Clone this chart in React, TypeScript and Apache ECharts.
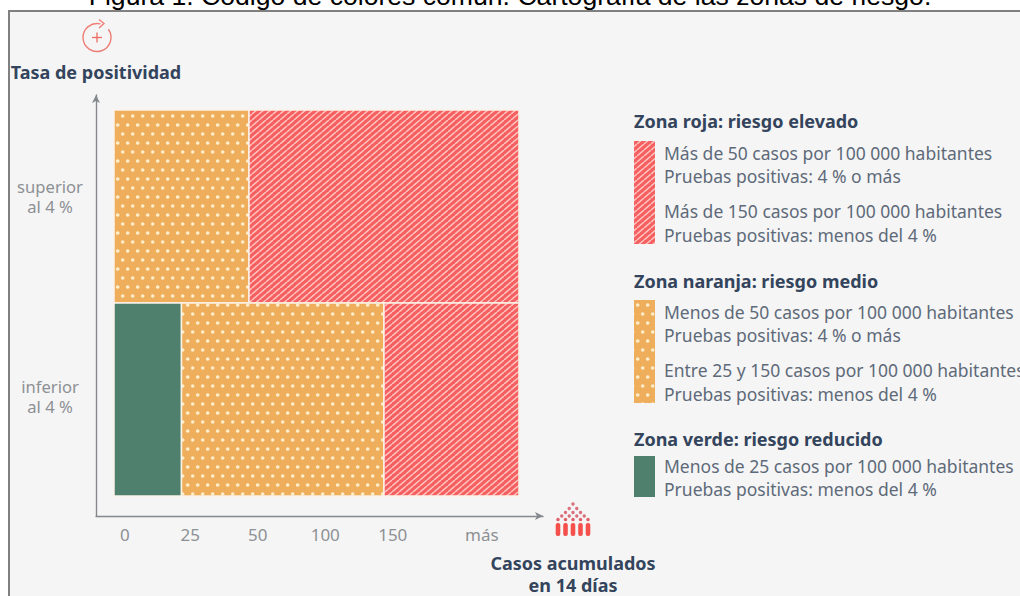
import React, { useEffect, useRef } from "react";
import * as echarts from "echarts";

const TITLE = "Figura 1. Código de colores común. Cartografía de las zonas de riesgo.";
const xTickLabels = ["0", "25", "50", "100", "150", "más"];
const xTickSlots = [0.16, 1.13, 2.13, 3.13, 4.13, 5.45];
const yTickLabels = ["inferior\nal 4 %", "superior\nal 4 %"];
const yTickSlots = [0.515, 1.55];
// [slot start, slot end, band start, band end, zone]
const zones: [number, number, number, number, string][] = [
  [0, 2, 1, 2, "naranja"],
  [2, 6, 1, 2, "roja"],
  [0, 1, 0, 1, "verde"],
  [1, 4, 0, 1, "naranja"],
  [4, 6, 0, 1, "roja"],
];
const legendRoja = [
  "Zona roja: riesgo elevado",
  "Más de 50 casos por 100 000 habitantes",
  "Pruebas positivas: 4 % o más",
  "Más de 150 casos por 100 000 habitantes",
  "Pruebas positivas: menos del 4 %",
];
const legendNaranja = [
  "Zona naranja: riesgo medio",
  "Menos de 50 casos por 100 000 habitantes",
  "Pruebas positivas: 4 % o más",
  "Entre 25 y 150 casos por 100 000 habitantes",
  "Pruebas positivas: menos del 4 %",
];
const legendVerde = [
  "Zona verde: riesgo reducido",
  "Menos de 25 casos por 100 000 habitantes",
  "Pruebas positivas: menos del 4 %",
];

const FONT = "'Noto Sans', sans-serif";
const INK = "#33445c";
const BODY = "#5e6a79";
const GREY = "#8d9094";
const GREEN = "#4f7f6d";
const ORANGE = "#efae5c";
const RED = "#f55f5f";

function dotPattern() {
  const w = 10, h = 18;
  const c = document.createElement("canvas");
  c.width = w; c.height = h;
  const g = c.getContext("2d")!;
  g.fillStyle = ORANGE;
  g.fillRect(0, 0, w, h);
  g.fillStyle = "#fdeecb";
  for (const [x, y] of [[2.7, 8], [7.7, 17], [7.7, -1]]) {
    g.beginPath();
    g.arc(x, y, 1.8, 0, Math.PI * 2);
    g.fill();
  }
  return { image: c, repeat: "repeat", imageWidth: w, imageHeight: h };
}

function stripePattern() {
  const w = 7, h = 6;
  const c = document.createElement("canvas");
  c.width = w; c.height = h;
  const g = c.getContext("2d")!;
  g.fillStyle = RED;
  g.fillRect(0, 0, w, h);
  g.strokeStyle = "#ffc4c0";
  g.lineWidth = 1.5;
  for (const dx of [-w, 0, w]) {
    g.beginPath();
    g.moveTo(dx, h);
    g.lineTo(dx + w, 0);
    g.stroke();
  }
  return { image: c, repeat: "repeat", imageWidth: w, imageHeight: h };
}

function text(x: number, y: number, t: string, bold = false, align = "left") {
  return {
    type: "text",
    x,
    y,
    style: {
      text: t,
      fontFamily: FONT,
      fontSize: bold ? 18 : 17.5,
      fontWeight: bold ? 700 : 400,
      fill: bold ? INK : BODY,
      textAlign: align,
      textVerticalAlign: "middle",
    },
  };
}

function peopleIcon() {
  const out: any[] = [];
  const cols = [558, 565.5, 573, 580.5, 588];
  for (const x of cols) {
    out.push({ type: "rect", shape: { x: x - 2.3, y: 523, width: 4.6, height: 13, r: 2 }, style: { fill: "#f5504c" } });
    out.push({ type: "circle", shape: { cx: x, cy: 519.5, r: 1.8 }, style: { fill: "#e2626c" } });
  }
  const rows: [number, number][] = [[1, 504], [2, 508.5], [3, 512.5], [4, 516]];
  for (const [n, y] of rows) {
    for (let i = 0; i < n; i++) {
      out.push({
        type: "circle",
        shape: { cx: 573 + (i - (n - 1) / 2) * 7.5, cy: y, r: 1.7 },
        style: { fill: "#d9707c" },
      });
    }
  }
  return out;
}

function retryIcon() {
  const st = { stroke: "#ee7f77", lineWidth: 1.4, fill: "none" };
  return [
    { type: "arc", shape: { cx: 97, cy: 37.5, r: 14, startAngle: -Math.PI * 0.2, endAngle: -Math.PI * 0.42, clockwise: true }, style: st },
    { type: "polyline", shape: { points: [[99, 19.5], [104, 23.5], [99, 28]] }, style: st },
    { type: "line", shape: { x1: 92, y1: 37.5, x2: 102, y2: 37.5 }, style: { stroke: "#ee6a62", lineWidth: 1.3 } },
    { type: "line", shape: { x1: 97, y1: 32.5, x2: 97, y2: 42.5 }, style: { stroke: "#ee6a62", lineWidth: 1.3 } },
  ];
}

export default function App() {
  const ref = useRef<HTMLDivElement>(null);
  useEffect(() => {
    const chart = echarts.init(ref.current!, undefined, { renderer: "svg" });
    const fills: Record<string, any> = { roja: stripePattern(), naranja: dotPattern(), verde: GREEN };
    const linePos = [153, 176, 211, 235];
    const graphic: any[] = [
      { type: "rect", z: -10, silent: true, shape: { x: 9, y: 11, width: 1100, height: 700 }, style: { fill: "#f5f5f5", stroke: "#808080", lineWidth: 2 } },
      ...retryIcon(),
      ...peopleIcon(),
      text(573, 563, "Casos acumulados", true, "center"),
      text(573, 585, "en 14 días", true, "center"),
      text(634, 121, legendRoja[0], true),
      ...legendRoja.slice(1).map((t, i) => text(664, linePos[i], t)),
      text(634, 281, legendNaranja[0], true),
      ...legendNaranja.slice(1).map((t, i) => text(664, linePos[i] + 159, t)),
      text(634, 439, legendVerde[0], true),
      ...legendVerde.slice(1).map((t, i) => text(664, 466 + i * 23, t)),
      { type: "rect", shape: { x: 634, y: 141, width: 21, height: 103 }, style: { fill: fills.roja } },
      { type: "rect", shape: { x: 634, y: 300, width: 21, height: 103 }, style: { fill: fills.naranja } },
      { type: "rect", shape: { x: 634, y: 456, width: 21, height: 41 }, style: { fill: GREEN } },
    ];
    const axisStyle = { show: true, onZero: false, symbol: ["none", "arrow"], symbolSize: [6, 8], lineStyle: { color: "#85888c", width: 1.4 } };
    chart.setOption({
      animation: false,
      backgroundColor: "#ffffff",
      title: {
        text: TITLE,
        left: "center",
        top: -23,
        textStyle: { fontFamily: "'Liberation Sans', Arial, sans-serif", fontWeight: 400, fontSize: 26.6, color: "#000" },
      },
      grid: { left: 96, right: 477, top: 95, bottom: 80 },
      xAxis: {
        type: "value",
        min: -0.2667,
        max: 6.356,
        axisLine: axisStyle,
        axisTick: { show: false },
        splitLine: { show: false },
        axisLabel: {
          customValues: xTickSlots,
          margin: 10,
          color: GREY,
          fontFamily: FONT,
          fontSize: 17,
          formatter: (v: number) => xTickLabels[xTickSlots.indexOf(v)],
        },
      },
      yAxis: {
        type: "value",
        min: -0.1036,
        max: 2.078,
        name: "Tasa de positividad",
        nameLocation: "end",
        nameGap: 14,
        nameTextStyle: { fontFamily: FONT, fontWeight: 700, fontSize: 18, color: INK },
        axisLine: axisStyle,
        axisTick: { show: false },
        splitLine: { show: false },
        axisLabel: {
          customValues: yTickSlots,
          margin: 46,
          align: "center",
          color: GREY,
          fontFamily: FONT,
          fontSize: 16.6,
          lineHeight: 20,
          formatter: (v: number) => yTickLabels[yTickSlots.indexOf(v)],
        },
      },
      graphic,
      series: [
        {
          type: "custom",
          data: zones,
          clip: false,
          encode: { x: [0, 1], y: [2, 3] },
          renderItem: (_p: any, api: any) => {
            const a = api.coord([api.value(0), api.value(3)]);
            const b = api.coord([api.value(1), api.value(2)]);
            return {
              type: "rect",
              shape: { x: a[0], y: a[1], width: b[0] - a[0], height: b[1] - a[1] },
              style: { fill: fills[api.value(4)], stroke: "#fbf2e8", lineWidth: 1.5 },
            };
          },
        },
      ],
    });
    return () => chart.dispose();
  }, []);
  return <div ref={ref} style={{ position: "absolute", left: 0, top: 0, width: 1020, height: 596 }} />;
}
